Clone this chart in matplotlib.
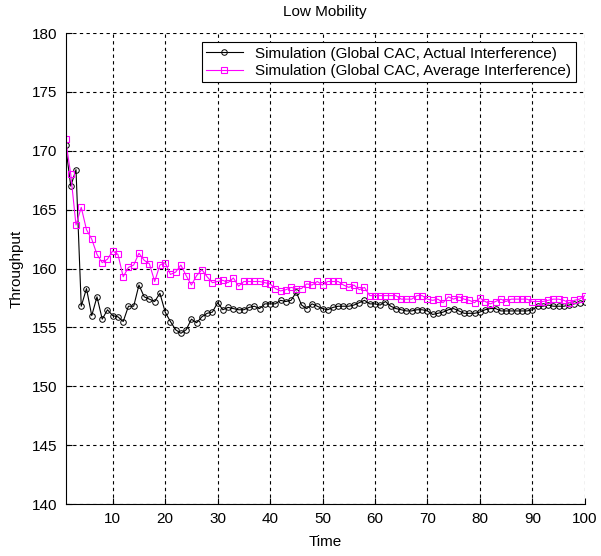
import numpy as np
import matplotlib
matplotlib.use("Agg")
import matplotlib.pyplot as plt

plt.rcParams['font.family'] = ['Liberation Sans Narrow', 'Liberation Sans', 'DejaVu Sans']

# time steps 1..100
time = np.arange(1, 101)

# Global CAC, actual interference
actual = [
    170.5, 167.0, 168.4, 156.8, 158.3, 156.0, 157.6, 155.7, 156.5, 156.0,
    155.9, 155.5, 156.8, 156.8, 158.6, 157.6, 157.4, 157.2, 157.9, 156.3,
    155.5, 154.8, 154.5, 154.8, 155.7, 155.4, 155.9, 156.2, 156.3, 157.1,
    156.5, 156.7, 156.6, 156.5, 156.5, 156.7, 156.8, 156.6, 157.0, 157.0,
    157.0, 157.3, 157.2, 157.3, 158.0, 156.9, 156.6, 157.0, 156.8, 156.6,
    156.5, 156.7, 156.8, 156.8, 156.8, 156.9, 157.1, 157.3, 157.0, 157.0,
    156.9, 157.2, 156.8, 156.6, 156.5, 156.4, 156.4, 156.5, 156.5, 156.4,
    156.1, 156.2, 156.3, 156.5, 156.6, 156.4, 156.2, 156.2, 156.2, 156.3,
    156.5, 156.6, 156.6, 156.4, 156.4, 156.4, 156.4, 156.4, 156.4, 156.5,
    156.8, 156.8, 156.9, 156.8, 156.8, 156.8, 156.9, 157.0, 157.1, 157.2,
]

# Global CAC, average interference
average = [
    171.0, 168.0, 163.7, 165.2, 163.3, 162.5, 161.2, 160.5, 160.8, 161.5,
    161.2, 159.3, 160.1, 160.3, 161.3, 160.7, 160.4, 158.9, 160.3, 160.5,
    159.5, 159.7, 160.3, 159.4, 158.6, 159.4, 159.9, 159.3, 158.8, 158.9,
    159.0, 158.8, 159.2, 158.5, 158.9, 158.9, 158.9, 158.9, 158.8, 158.7,
    158.3, 158.1, 158.2, 158.4, 158.3, 158.3, 158.7, 158.6, 158.9, 158.6,
    158.9, 158.9, 158.9, 158.6, 158.4, 158.6, 158.2, 158.4, 157.7, 157.7,
    157.7, 157.7, 157.7, 157.7, 157.4, 157.4, 157.4, 157.7, 157.7, 157.4,
    157.3, 157.4, 157.1, 157.6, 157.4, 157.6, 157.4, 157.3, 157.1, 157.5,
    157.2, 157.0, 157.2, 157.4, 157.2, 157.4, 157.4, 157.4, 157.4, 157.2,
    157.2, 157.2, 157.3, 157.4, 157.4, 157.3, 157.1, 157.3, 157.4, 157.7,
]

fig = plt.figure(figsize=(6.01, 5.56), dpi=100)
ax = fig.add_axes([0.109, 0.0935, 0.864, 0.847])

ax.plot(time, actual, color='black', lw=0.8, marker='o', ms=4,
        mfc='none', mew=0.7, label='Simulation (Global CAC, Actual Interference)')
ax.plot(time, average, color='#ff00ff', lw=0.8, marker='s', ms=4.3,
        mfc='none', mew=0.8, label='Simulation (Global CAC, Average Interference)')

ax.set_xlim(1, 100)
ax.set_ylim(140, 180)
ax.set_xticks(np.arange(10, 101, 10))
ax.set_yticks(np.arange(140, 181, 5))
ax.grid(True, color='black', linestyle=(0, (3, 3)), linewidth=0.8)
ax.tick_params(direction='in', length=4, labelsize=11, width=0.8, pad=6)
ax.spines['top'].set_visible(False)
ax.spines['right'].set_visible(False)

ax.set_title('Low Mobility', fontsize=11, pad=12)
ax.set_xlabel('Time', fontsize=11, labelpad=6)
ax.set_ylabel('Throughput', fontsize=11, labelpad=6)

leg = ax.legend(loc='upper right', fontsize=11, frameon=True, fancybox=False,
                edgecolor='black', framealpha=1, borderaxespad=0.6,
                handlelength=2.4, borderpad=0.3, labelspacing=0.2)
leg.get_frame().set_linewidth(0.8)

fig.savefig('out.png', dpi=100)
